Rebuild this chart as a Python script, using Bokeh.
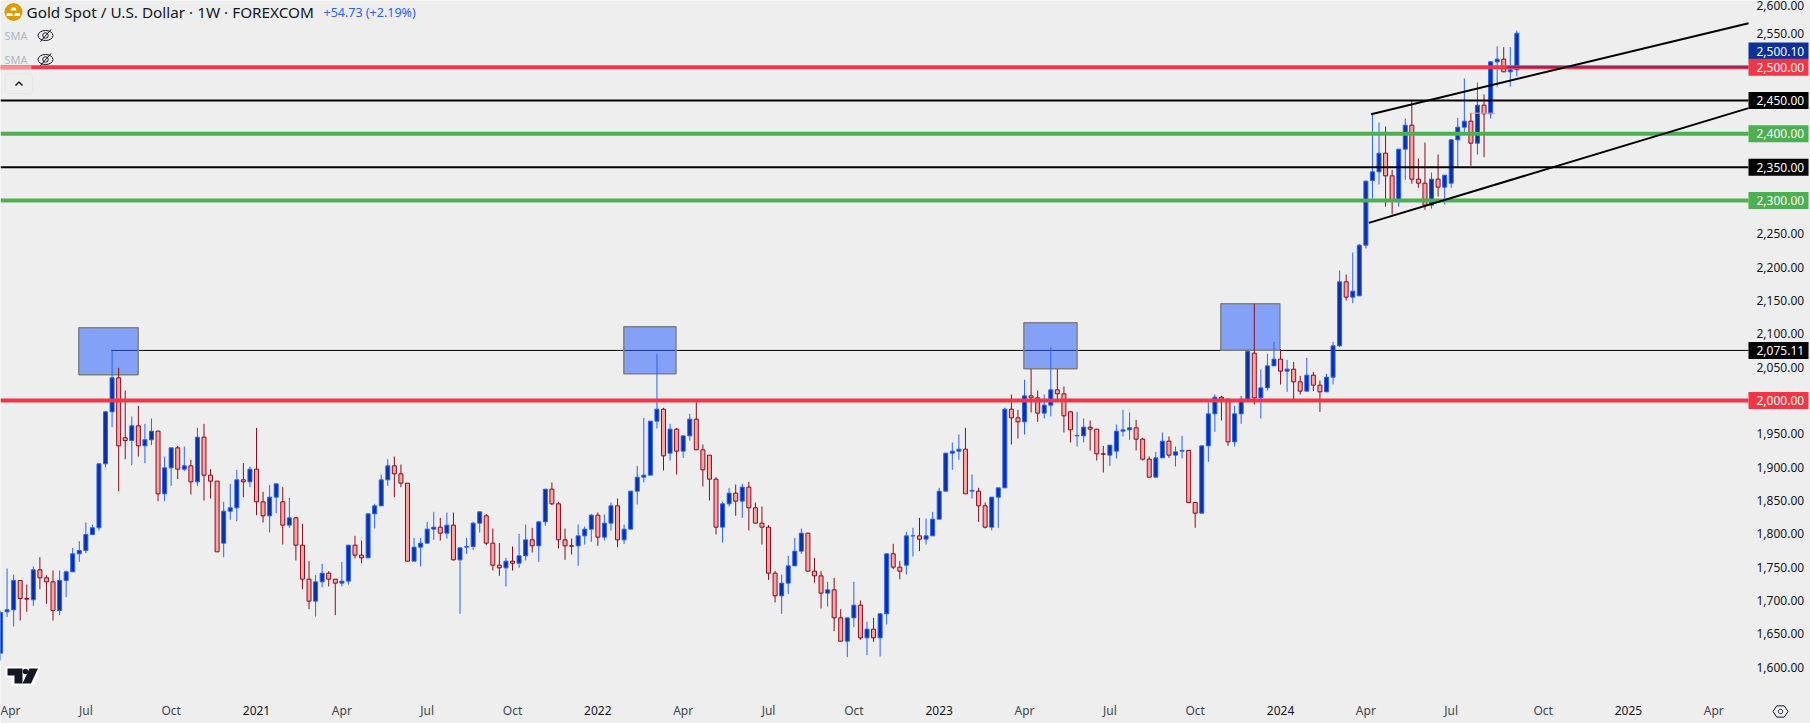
from bokeh.plotting import figure
from bokeh.embed import file_html
from bokeh.resources import INLINE
from bokeh.models import Range1d, LinearAxis, FixedTicker, Label, BoxAnnotation, ColumnDataSource, CustomJSTickFormatter
import numpy as np

opens = [
1621,1683,1686,1730,1703,1701,1746,1734,1728,1685,
1730,1743,1770,1775,1799,1809,1905,1983,2034,1944,
1940,1962,1932,1941,1954,1860,1899,1929,1897,1902,
1878,1945,1888,1879,1786,1834,1839,1881,1878,1897,
1848,1827,1855,1848,1813,1824,1783,1732,1699,1728,
1741,1732,1726,1729,1783,1768,1764,1830,1842,1881,
1902,1890,1876,1759,1780,1786,1807,1810,1801,
1813,1761,1780,1781,1816,1827,1786,1753,1749,1759,
1756,1767,1791,1782,1818,1867,1845,1791,1782,1782,
1797,1807,1828,1795,1816,1842,1791,1807,1864,1885,
1888,1969,1987,1921,1957,1924,1947,1972,1926,1918,
1882,1810,1845,1861,1849,1870,1839,1816,1810,1741,
1707,1726,1752,1774,1801,1744,1737,1711,1716,1674,
1639,1674,1693,1644,1657,1644,1680,1770,1750,
1753,1797,1797,1792,1797,1822,1864,1921,1924,1927,
1864,1864,1842,1810,1855,1869,1987,1974,1968,2007,
2004,1981,1993,2016,2010,1983,1947,1947,1960,1957,
1920,1918,1924,1954,1956,1959,1942,1912,1885,1914,
1939,1918,1924,1925,1847,1831,1932,1980,2005,2002,
1938,1980,2001,2071,2004,2019,2052,2062,2044,2047,
2028,2014,2038,2023,2013,2035,2082,
2178,2155,2157,2233,2330,2343,2371,2337,2301,2377,
2413,2332,2326,2293,2332,2320,2326,2391,2410,2419,
2386,2443,2430,2508,2512,2493,2496]

highs = [
1685,1748,1739,1730,1724,1751,1765,1738,1745,1745,
1745,1779,1789,1817,1814,1905,1984,2075,2049,2015,
1976,1992,1965,1973,1955,1916,1929,1932,1931,1911,
1959,1965,1897,1879,1848,1875,1896,1906,1901,1959,
1863,1873,1875,1870,1854,1825,1815,1759,1738,1755,
1744,1732,1758,1783,1797,1790,1830,1845,1889,1912,
1916,1904,1876,1794,1794,1818,1833,1824,1832,
1832,1779,1794,1818,1833,1830,1808,1786,1764,1781,
1800,1814,1809,1818,1867,1877,1848,1808,1793,1814,
1811,1830,1832,1829,1847,1853,1814,1864,1902,1974,
1969,2070,1989,1965,1959,1947,1980,1998,1934,1918,
1885,1848,1869,1874,1875,1878,1847,1841,1813,1744,
1739,1767,1794,1808,1801,1764,1744,1728,1734,1687,
1674,1728,1700,1668,1674,1681,1771,1785,1759,
1803,1809,1824,1823,1833,1869,1921,1937,1949,1959,
1889,1869,1847,1855,1869,1989,2009,1986,2031,2047,
2015,2009,2080,2047,2021,1984,1983,1973,1970,1957,
1932,1933,1964,1986,1982,1971,1944,1916,1923,1952,
1946,1931,1947,1926,1847,1932,1997,2009,2007,2002,
1992,2007,2075,2145,2047,2070,2088,2077,2061,2058,
2037,2064,2043,2030,2040,2088,2195,
2189,2222,2235,2330,2430,2417,2411,2346,2377,2423,
2450,2363,2387,2342,2369,2338,2392,2424,2483,2431,
2477,2459,2509,2531,2530,2530,2555]

lows = [
1610,1675,1661,1670,1683,1692,1717,1695,1670,1678,
1705,1743,1758,1771,1798,1805,1900,1960,1864,1912,
1903,1916,1906,1933,1849,1849,1872,1882,1894,1859,
1872,1850,1853,1773,1765,1821,1819,1855,1870,1828,
1817,1802,1831,1784,1809,1760,1717,1687,1676,1720,
1721,1678,1721,1724,1763,1756,1764,1808,1842,1872,
1855,1870,1759,1759,1751,1785,1791,1790,1793,
1760,1680,1770,1776,1802,1783,1745,1737,1721,1745,
1749,1760,1772,1758,1812,1843,1778,1761,1769,1752,
1784,1788,1782,1790,1805,1780,1785,1807,1844,1877,
1888,1958,1895,1910,1889,1914,1940,1926,1871,1850,
1799,1787,1841,1827,1824,1805,1816,1784,1731,1697,
1680,1710,1752,1770,1744,1727,1688,1691,1654,1639,
1615,1660,1641,1618,1638,1616,1664,1747,1732,
1739,1766,1774,1784,1797,1822,1864,1896,1911,1860,
1853,1818,1808,1805,1809,1869,1934,1943,1949,1982,
1968,1973,1976,2000,1952,1937,1931,1937,1925,1910,
1892,1902,1913,1946,1941,1925,1910,1885,1885,1914,
1914,1901,1913,1846,1809,1831,1908,1953,1970,1932,
1931,1965,2000,1994,1973,2015,2052,2024,2013,2001,
2009,2014,2014,1983,2013,2024,2080,
2150,2146,2157,2228,2303,2324,2291,2279,2291,2331,
2325,2319,2286,2288,2306,2294,2319,2350,2401,2352,
2369,2365,2423,2471,2493,2471,2486]

closes = [
1682,1686,1730,1703,1702,1746,1734,1728,1685,1730,
1743,1770,1775,1799,1809,1905,1983,2034,1932,1940,
1962,1932,1941,1954,1860,1899,1929,1897,1902,1878,
1945,1888,1879,1773,1834,1839,1881,1878,1897,1848,
1827,1855,1875,1813,1824,1783,1732,1699,1728,1741,
1732,1726,1729,1783,1768,1764,1830,1842,1881,1902,
1890,1876,1759,1780,1786,1807,1810,1801,1813,
1761,1779,1781,1816,1833,1786,1753,1749,1759,1756,
1767,1791,1782,1818,1867,1845,1791,1782,1781.5,1797,
1807,1828,1795,1816,1842,1791,1807,1864,1885,1888,
1969,1987,1917,1957,1924,1947,1972,1926,1896,1882,
1810,1845,1861,1849,1870,1839,1816,1810,1741,1707,
1726,1752,1774,1801,1744,1737,1711,1716,1674,1639,
1674,1693,1644,1657,1644,1680,1770,1750,1744,
1797,1797,1792,1797,1822,1864,1921,1924,1927,1860,
1865,1842,1810,1855,1869,1987,1974,1968,2007,2004,
1981,1993,2016,2010,1977,1956,1947.5,1960,1957,1920,
1919.5,1933,1954,1956,1959,1942,1912,1885,1914,1939,
1918,1923,1925,1847,1831,1932,1980,2005,2002,1938,
1980,2002,2074,2004,2019,2052,2062,2044,2047,2028,
2014,2038,2023,2013,2035,2082,2178,
2155,2164,2233,2329,2343,2371,2337,2301,2377,2413,
2332,2326,2293,2332,2320,2338,2391,2410,2419,2386,
2443,2430,2508,2512,2493,2496,2551]

assert len(opens) == len(highs) == len(lows) == len(closes) == 232, (len(opens), len(highs), len(lows), len(closes))

# time axis (week index, first bar = first week of April 2020)
month_ticks = [0, 13, 26, 52, 65, 78, 104, 117, 130, 156, 169, 182, 208, 221, 235, 261]
month_labels = ["Apr", "Jul", "Oct", "Apr", "Jul", "Oct", "Apr", "Jul", "Oct", "Apr", "Jul", "Oct", "Apr", "Jul", "Oct", "Apr"]
year_ticks = [39, 91, 143, 195, 248]
year_labels = ["2021", "2022", "2023", "2024", "2025"]
price_ticks = [1600, 1650, 1700, 1750, 1800, 1850, 1900, 1950, 2050, 2100, 2150, 2200, 2250, 2550, 2600]

# horizontal levels
level_values = [2500, 2450, 2400, 2350, 2300, 2000]
level_colors = ["#f23645", "#000000", "#4caf50", "#000000", "#4caf50", "#f23645"]
level_widths = [4, 2, 4, 2, 4, 4]
level_text = ["2,500.00", "2,450.00", "2,400.00", "2,350.00", "2,300.00", "2,000.00"]
swing_level = 2075.11
last_price = 2500.10

# highlighted zones
zone_left = [11.93, 94.96, 155.9, 185.9]
zone_right = [20.97, 102.9, 164.0, 194.9]
zone_top = [2109, 2110.5, 2116.5, 2145]
zone_bottom = [2038.5, 2040, 2047.5, 2075.5]

# channel lines
channel_up_x = [208.8, 266.3]
channel_up_y = [2429.5, 2566]
channel_low_x = [208.46, 266.3]
channel_low_y = [2266.5, 2438.5]

W, H = 1810, 723
PANE_W, PANE_H = 1748, 697
S = 6.5643
fx = lambda px: px / S
fy = lambda py: 2600 - 1.5 * py
FONT = "Noto Sans"
BG = "#eeeeee"
UP_LINE, UP_FILL = "#2962ff", "#0c3299"
DN_LINE, DN_FILL = "#880e1e", "#f8a5a5"

p = figure(width=W, height=H, output_backend="svg", toolbar_location=None,
           x_range=Range1d(0, W / S), y_range=Range1d(2600 - 1.5 * H, 2600),
           x_axis_location=None, y_axis_location=None,
           min_border_left=0, min_border_top=0, min_border_right=0, min_border_bottom=0,
           background_fill_color=BG, border_fill_color=BG, outline_line_color=None,
           styles={"position": "absolute", "left": "0px", "top": "0px"})
p.grid.visible = False

yaxis = LinearAxis(ticker=FixedTicker(ticks=price_ticks), fixed_location=fx(PANE_W),
                   formatter=CustomJSTickFormatter(code="return tick.toLocaleString('en-US',{minimumFractionDigits:2,maximumFractionDigits:2});"),
                   axis_line_color=None, major_tick_line_color=None, minor_tick_line_color=None,
                   major_tick_in=0, major_tick_out=0,
                   major_label_standoff=8, major_label_text_font=FONT, major_label_text_font_size="12px",
                   major_label_text_color="#131722")
p.add_layout(yaxis, "right")
xaxis = LinearAxis(ticker=FixedTicker(ticks=month_ticks), fixed_location=fy(PANE_H),
                   major_label_overrides=dict(zip(month_ticks, month_labels)),
                   axis_line_color=None, major_tick_line_color=None, minor_tick_line_color=None,
                   major_tick_in=0, major_tick_out=0,
                   major_label_standoff=4, major_label_text_font=FONT, major_label_text_font_size="12px",
                   major_label_text_color="#42454e")
p.add_layout(xaxis, "below")

# swing line and zones lie under the bars
xmax = fx(PANE_W)
p.segment(x0=[16.9], x1=[xmax], y0=[swing_level], y1=[swing_level], line_color="#000000", line_width=1)
p.quad(left=zone_left, right=zone_right, top=zone_top, bottom=zone_bottom,
       fill_color="#2962ff", fill_alpha=0.54, line_color="#808080", line_width=1.5)

idx = np.arange(len(opens))
up = [c >= o for o, c in zip(opens, closes)]
src = ColumnDataSource(dict(
    x=idx, o=opens, h=highs, l=lows, c=closes,
    top=[max(o, c) for o, c in zip(opens, closes)],
    bot=[min(o, c) for o, c in zip(opens, closes)],
    line=[UP_LINE if u else DN_LINE for u in up],
    fill=[UP_FILL if u else DN_FILL for u in up]))
p.segment(x0="x", x1="x", y0="l", y1="h", line_color="line", line_width=1, source=src)
p.vbar(x="x", width=0.61, top="top", bottom="bot", fill_color="fill", line_color="line", line_width=1, source=src)

# levels on top of the bars
p.segment(x0=[0] * 6, x1=[xmax] * 6, y0=level_values, y1=level_values,
          line_color=level_colors, line_width=level_widths)
p.segment(x0=[fx(0)], x1=[fx(31)], y0=[2500], y1=[2500], line_color="#f98e98", line_width=4)
p.line(channel_up_x, channel_up_y, line_color="#000000", line_width=2)
p.line(channel_low_x, channel_low_y, line_color="#000000", line_width=2)
p.segment(x0=[229.5], x1=[xmax], y0=[last_price], y1=[last_price], line_color=UP_FILL, line_width=1)
p.segment(x0=[224], x1=[227.7], y0=[2431], y1=[2431], line_color=DN_FILL, line_width=1)


def tag(center, text, fill):
    p.add_layout(BoxAnnotation(left=fx(1748), right=fx(1808), top=center + 12.75, bottom=center - 12.75,
                               fill_color=fill, fill_alpha=1, line_color=None, level="annotation"))
    p.add_layout(Label(x=fx(1756), y=center, text=text, text_color="#ffffff", text_font=FONT,
                       text_font_size="12px", text_baseline="middle", text_align="left"))


tag(fy(50.5), "2,500.10", UP_FILL)
for v, t, c in zip(level_values, level_text, level_colors):
    tag(v, t, c)
tag(swing_level, "2,075.11", "#000000")

for t, l in zip(year_ticks, year_labels):
    p.add_layout(Label(x=t, y=fy(709.5), text=l, text_color="#131722", text_font=FONT, text_font_size="12px",
                       text_align="center", text_baseline="middle"))

# legend
p.add_layout(Label(x=fx(26), y=fy(11.5), text="Gold Spot / U.S. Dollar · 1W · FOREXCOM", text_color="#131722",
                   text_font=FONT, text_font_size="15.3px", text_baseline="middle"))
p.add_layout(Label(x=fx(323), y=fy(11.5), text="+54.73 (+2.19%)", text_color="#2962ff",
                   text_font=FONT, text_font_size="12.5px", text_baseline="middle"))
for py in (35, 59):
    p.add_layout(Label(x=fx(4), y=fy(py), text="SMA", text_color="#b2b5be", text_font=FONT,
                       text_font_size="11px", text_baseline="middle"))
    p.ellipse(x=[fx(45)], y=[fy(py)], width=[15 / S], height=[10 * 1.5], fill_color=None, line_color="#131722", line_width=1)
    p.ellipse(x=[fx(45)], y=[fy(py)], width=[5.5 / S], height=[5.5 * 1.5], fill_color=None, line_color="#131722", line_width=1)
    p.line([fx(50.5), fx(40)], [fy(py - 6), fy(py + 6)], line_color="#131722", line_width=1)

p.scatter(x=[fx(13)], y=[fy(11.5)], size=18, marker="circle", fill_color="#dc9b00", line_color=None)
p.patches(xs=[[fx(a) for a in q] for q in ([11, 15, 16, 10], [6.5, 11.5, 12.5, 6], [14.5, 19, 20, 13.5])],
          ys=[[fy(b) for b in q] for q in ([7, 7, 10, 10], [12.5, 12.5, 15.5, 15.5], [12.5, 12.5, 15.5, 15.5])],
          fill_color="#ffffff", line_color=None)

p.add_layout(BoxAnnotation(left=fx(4.5), right=fx(32), top=fy(73.5), bottom=fy(93), fill_alpha=0,
                           line_color="#d1d4dc", line_width=1, border_radius=3))
p.line([fx(15), fx(18.5), fx(22)], [fy(85), fy(81.5), fy(85)], line_color="#131722", line_width=1.5)

# TradingView mark
p.patch([fx(a) for a in (5, 40, 34, 11, 11, 5)], [fy(b) for b in (666, 666, 685, 685, 677, 677)],
        fill_color="#ffffff", line_color=None)
p.patch([fx(a) for a in (7, 22, 22, 14, 14, 7)], [fy(b) for b in (668, 668, 683, 683, 675, 675)],
        fill_color="#131722", line_color=None)
p.patch([fx(a) for a in (29, 37.5, 30.5, 22)], [fy(b) for b in (668, 668, 683, 683)],
        fill_color="#131722", line_color=None)
p.scatter(x=[fx(25)], y=[fy(671)], size=5.5, marker="circle", fill_color="#131722", line_color=None)

# settings mark in the corner of the axes
ang = np.radians(np.arange(0, 360, 60))
p.patch(list(fx(1780 + 7.5 * np.cos(ang))), list(fy(711 + 6.5 * np.sin(ang))),
        fill_color=None, line_color="#131722", line_width=1)
ang2 = np.radians(np.arange(0, 360, 30))
p.patch(list(fx(1780 + 2.2 * np.cos(ang2))), list(fy(711 + 2.2 * np.sin(ang2))),
        fill_color=None, line_color="#131722", line_width=1)

open("out.html", "w").write(file_html(p, INLINE))
